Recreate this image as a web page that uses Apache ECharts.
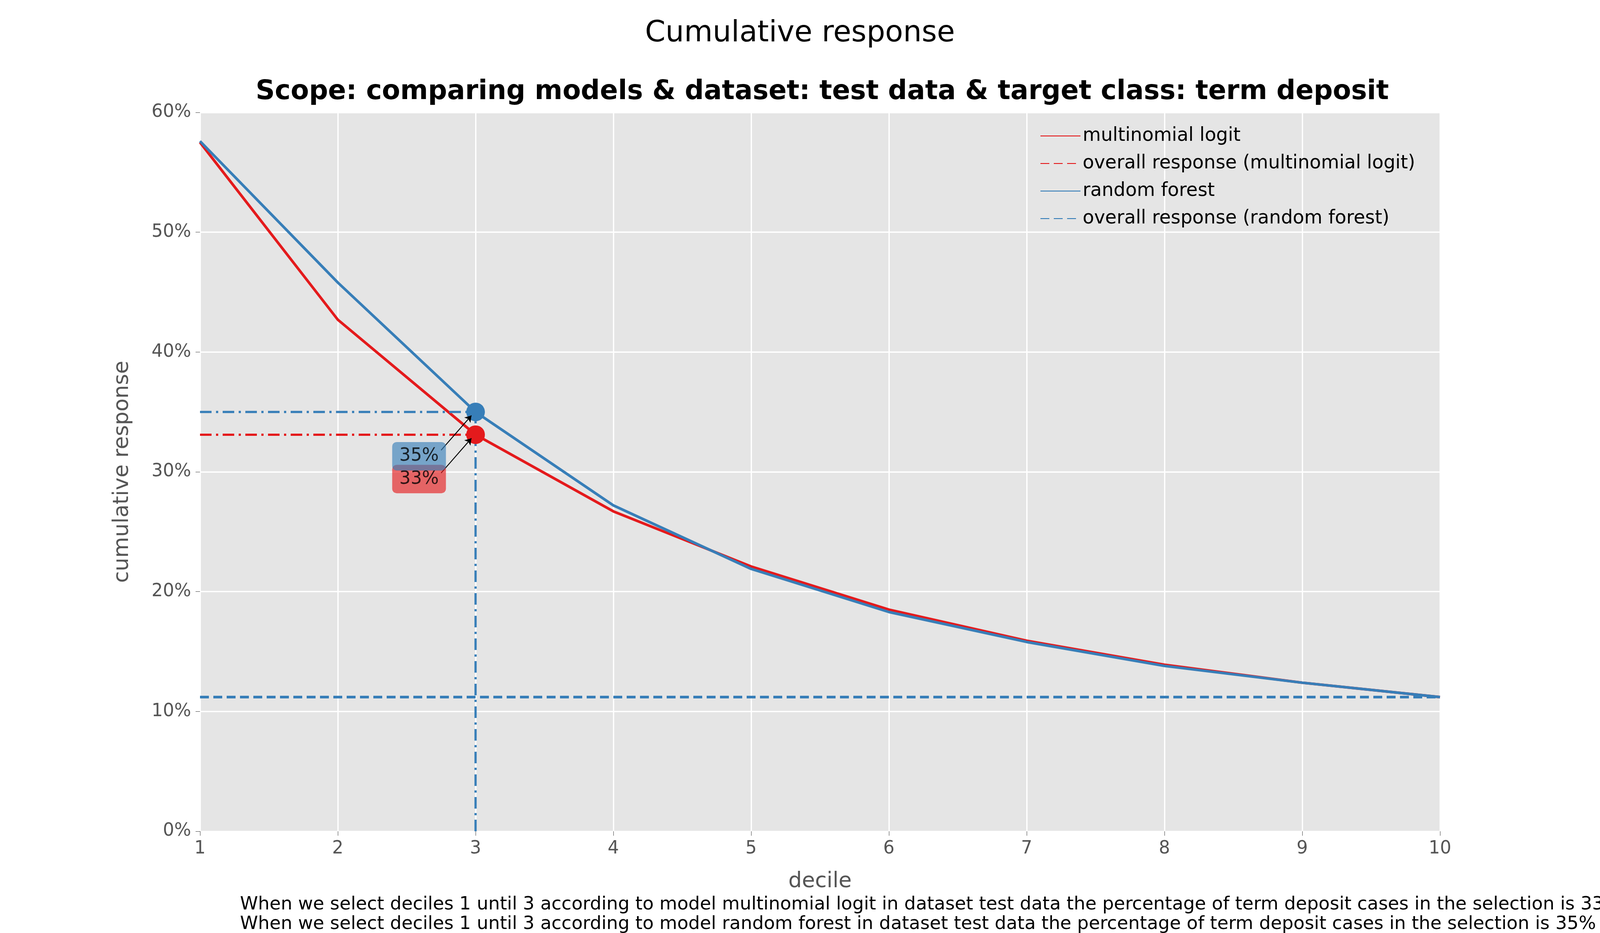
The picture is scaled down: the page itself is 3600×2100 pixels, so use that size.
<!DOCTYPE html>
<html lang="en">
<head>
<meta charset="UTF-8">
<title>Cumulative response</title>
<script src="https://cdn.jsdelivr.net/npm/echarts@6/dist/echarts.min.js"></script>
<style>html,body{margin:0;background:#fff}#chart{width:3600px;height:2100px}</style>
</head>
<body>
<div id="chart"></div>
<script>
var deciles = [1, 2, 3, 4, 5, 6, 7, 8, 9, 10];
var logitResp = [57.5, 42.7, 33.1, 26.7, 22.1, 18.5, 15.9, 13.9, 12.4, 11.2];
var forestResp = [57.6, 45.8, 35.0, 27.2, 21.9, 18.3, 15.8, 13.8, 12.4, 11.2];
var logitOverall = 11.2;
var forestOverall = 11.2;
var selDecile = 3;
var logitLabel = [2.59, 29.4, '33%'];
var forestLabel = [2.59, 31.3, '35%'];

var red = '#e41a1c', blue = '#377eb8';
var font = 'DejaVu Sans';
function pairs(vals) { return deciles.map(function (d, i) { return [d, vals[i]]; }); }
function flat(v) { return [[1, v], [10, v]]; }
var dashDot = [26, 10, 5, 10];

var chart = echarts.init(document.getElementById('chart'));
chart.setOption({
    animation: false,
    textStyle: { fontFamily: font },
    title: [
        { text: 'Cumulative response', left: 'center', top: 38, textStyle: { fontSize: 66, fontWeight: 'normal', color: '#000' } },
        { text: 'Scope: comparing models & dataset: test data & target class: term deposit', left: 1845, textAlign: 'center', top: 172, textStyle: { fontSize: 60, fontWeight: 'bold', color: '#000' } }
    ],
    legend: {
        orient: 'vertical', left: 2335, top: 280, itemGap: 20, itemWidth: 90, itemHeight: 30,
        itemStyle: { opacity: 0 },
        textStyle: { fontSize: 42, color: '#000' },
        data: ['multinomial logit', 'overall response (multinomial logit)', 'random forest', 'overall response (random forest)']
    },
    grid: { left: 450, right: 360, top: 253, bottom: 229, show: true, backgroundColor: '#e5e5e5', borderWidth: 0 },
    xAxis: {
        type: 'value', min: 1, max: 10, interval: 1,
        name: 'decile', nameLocation: 'middle', nameGap: 90,
        nameTextStyle: { fontSize: 48, color: '#555' },
        axisLine: { show: false }, axisTick: { show: true, length: 10, lineStyle: { color: '#555' } },
        axisLabel: { fontSize: 40, color: '#555', margin: 20 },
        splitLine: { lineStyle: { color: '#fff', width: 3 } }
    },
    yAxis: {
        type: 'value', min: 0, max: 60, interval: 10,
        name: 'cumulative response', nameLocation: 'middle', nameGap: 150,
        nameTextStyle: { fontSize: 48, color: '#555' },
        axisLine: { show: false }, axisTick: { show: true, length: 10, lineStyle: { color: '#555' } },
        axisLabel: { fontSize: 40, color: '#555', margin: 20, formatter: '{value}%' },
        splitLine: { lineStyle: { color: '#fff', width: 3 } }
    },
    graphic: [
        { type: 'text', left: 540, top: 2016, style: { text: 'When we select deciles 1 until 3 according to model multinomial logit in dataset test data the percentage of term deposit cases in the selection is 33%', fontSize: 41, fontFamily: font, fill: '#000' } },
        { type: 'text', left: 540, top: 2060, style: { text: 'When we select deciles 1 until 3 according to model random forest in dataset test data the percentage of term deposit cases in the selection is 35%', fontSize: 41, fontFamily: font, fill: '#000' } }
    ],
    series: [
        { name: 'multinomial logit', type: 'line', data: pairs(logitResp), symbol: 'none', lineStyle: { color: red, width: 6 }, itemStyle: { color: red }, z: 3 },
        { name: 'overall response (multinomial logit)', type: 'line', data: flat(logitOverall), symbol: 'none', lineStyle: { color: red, width: 6, type: [20, 10] }, itemStyle: { color: red } },
        { name: 'random forest', type: 'line', data: pairs(forestResp), symbol: 'none', lineStyle: { color: blue, width: 6 }, itemStyle: { color: blue }, z: 3 },
        { name: 'overall response (random forest)', type: 'line', data: flat(forestOverall), symbol: 'none', lineStyle: { color: blue, width: 6, type: [20, 10] }, itemStyle: { color: blue } },
        { type: 'line', data: [[1, logitResp[2]], [selDecile, logitResp[2]]], symbol: 'none', lineStyle: { color: red, width: 5, type: dashDot } },
        { type: 'line', data: [[1, forestResp[2]], [selDecile, forestResp[2]]], symbol: 'none', lineStyle: { color: blue, width: 5, type: dashDot } },
        { type: 'line', data: [[selDecile, 0], [selDecile, forestResp[2]]], symbol: 'none', lineStyle: { color: blue, width: 5, type: dashDot } },
        { type: 'scatter', data: [[selDecile, logitResp[2]]], symbolSize: 42, itemStyle: { color: red, opacity: 1 }, z: 5 },
        { type: 'scatter', data: [[selDecile, forestResp[2]]], symbolSize: 42, itemStyle: { color: blue, opacity: 1 }, z: 5 },
        { type: 'lines', coordinateSystem: 'cartesian2d', polyline: false, symbol: ['none', 'arrow'], symbolSize: 14, z: 6,
          lineStyle: { color: '#000', width: 2, opacity: 1 },
          data: [
            { coords: [[logitLabel[0] + 0.16, logitLabel[1] + 0.5], [selDecile - 0.03, logitResp[2] - 0.3]] },
            { coords: [[forestLabel[0] + 0.16, forestLabel[1] + 0.5], [selDecile - 0.03, forestResp[2] - 0.3]] }
          ] },
        { type: 'scatter', data: [[logitLabel[0], logitLabel[1]]], symbolSize: 0, z: 7,
          label: { show: true, position: 'inside', formatter: logitLabel[2], fontSize: 40, color: '#000', backgroundColor: 'rgba(228,26,28,0.8)', borderRadius: 10, padding: [12, 16] } },
        { type: 'scatter', data: [[forestLabel[0], forestLabel[1]]], symbolSize: 0, z: 8,
          label: { show: true, position: 'inside', formatter: forestLabel[2], fontSize: 40, color: '#000', backgroundColor: 'rgba(55,126,184,0.8)', borderRadius: 10, padding: [12, 16] } }
    ]
});
</script>
</body>
</html>
